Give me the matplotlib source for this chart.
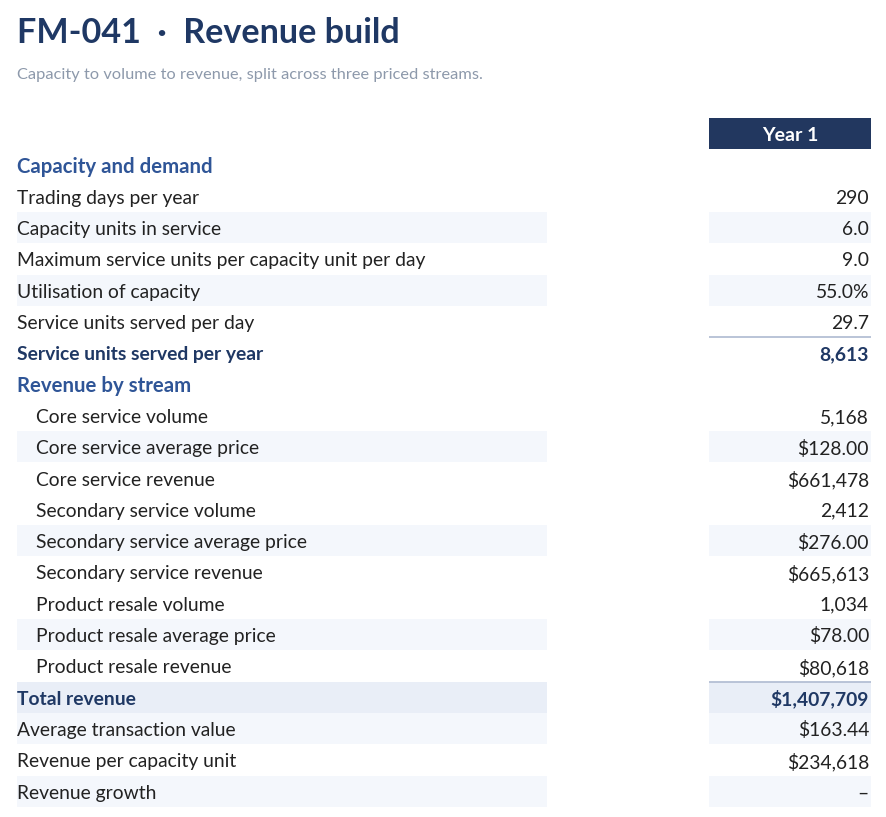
import matplotlib
matplotlib.use("Agg")
import matplotlib.pyplot as plt
from matplotlib.patches import Rectangle

plt.rcParams['font.family'] = ['Lato', 'DejaVu Sans']

title = "FM-041  \u00b7  Revenue build"
subtitle = "Capacity to volume to revenue, split across three priced streams."
column_header = "Year 1"

labels = [
    "Capacity and demand",
    "Trading days per year",
    "Capacity units in service",
    "Maximum service units per capacity unit per day",
    "Utilisation of capacity",
    "Service units served per day",
    "Service units served per year",
    "Revenue by stream",
    "Core service volume",
    "Core service average price",
    "Core service revenue",
    "Secondary service volume",
    "Secondary service average price",
    "Secondary service revenue",
    "Product resale volume",
    "Product resale average price",
    "Product resale revenue",
    "Total revenue",
    "Average transaction value",
    "Revenue per capacity unit",
    "Revenue growth",
]
values = [None, 290, 6.0, 9.0, 0.55, 29.7, 8613, None,
          5168, 128.00, 661478, 2412, 276.00, 665613, 1034, 78.00, 80618,
          1407709, 163.44, 234618, None]
formats = ["", "int", "dec1", "dec1", "pct", "dec1", "int", "",
           "int", "usd2", "usd0", "int", "usd2", "usd0", "int", "usd2", "usd0",
           "usd0", "usd2", "usd0", "dash"]
kinds = ["section", "row", "row", "row", "row", "row", "subtotal", "section",
         "item", "item", "item", "item", "item", "item", "item", "item", "item",
         "total", "row", "row", "row"]
shaded = [False, False, True, False, True, False, False, False,
          False, True, False, False, True, False, False, True, False,
          False, True, False, True]


def fmt(v, f):
    if f == "int":
        return f"{v:,.0f}"
    if f == "dec1":
        return f"{v:.1f}"
    if f == "pct":
        return f"{v*100:.1f}%"
    if f == "usd2":
        return f"${v:,.2f}"
    if f == "usd0":
        return f"${v:,.0f}"
    if f == "dash":
        return "\u2013"
    return ""


W, H = 887, 817
fig = plt.figure(figsize=(W / 100, H / 100), dpi=100)
ax = fig.add_axes([0, 0, 1, 1])
ax.set_xlim(0, W)
ax.set_ylim(H, 0)
ax.axis("off")

NAVY = "#1f3864"
BLUE = "#2f5597"
TEXT = "#222222"
GREY = "#8d99ab"
LIGHT = "#f4f7fc"
TOTALBG = "#e9eef7"
RULE = "#b4bfd4"

ax.text(17, 33, title, fontsize=24.6, fontweight="bold", color=NAVY,
        va="center", ha="left")
ax.text(17, 75, subtitle, fontsize=11.8, color=GREY, va="center", ha="left")

LX0, LX1 = 17, 547
VX0, VX1 = 709, 871
ax.add_patch(Rectangle((VX0, 118), VX1 - VX0, 31, facecolor="#22375f",
                       edgecolor="none"))
ax.text((VX0 + VX1) / 2, 135, column_header, fontsize=14, fontweight="bold",
        color="white", ha="center", va="center")

y0, pitch = 165, 31.3
dy = 2
for i, (lab, v, f, k, s) in enumerate(zip(labels, values, formats, kinds, shaded)):
    yc = y0 + i * pitch
    if s or k == "total":
        bg = TOTALBG if k == "total" else LIGHT
        ax.add_patch(Rectangle((LX0, yc - 15.5), LX1 - LX0, 31, facecolor=bg,
                               edgecolor="none"))
        ax.add_patch(Rectangle((VX0, yc - 15.5), VX1 - VX0, 31, facecolor=bg,
                               edgecolor="none"))
    if k in ("subtotal", "total"):
        ax.plot([VX0, VX1], [yc - 15.5, yc - 15.5], color=RULE, lw=1.3,
                solid_capstyle="butt")
    x = 36 if k == "item" else 17
    if k == "section":
        ax.text(x, yc + dy, lab, fontsize=14.7, fontweight="bold", color=BLUE,
                ha="left", va="center")
        continue
    bold = k in ("subtotal", "total")
    col = NAVY if bold else TEXT
    ax.text(x, yc + dy, lab, fontsize=13.85, fontweight="bold" if bold else "normal",
            color=col, ha="left", va="center")
    ax.text(869, yc + dy, fmt(v, f), fontsize=13.85,
            fontweight="bold" if bold else "normal", color=col,
            ha="right", va="center")

fig.savefig("out.png", dpi=100, facecolor="white")
